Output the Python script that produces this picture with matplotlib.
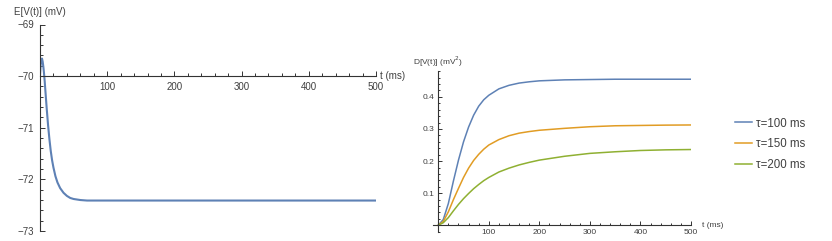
import numpy as np
import matplotlib.pyplot as plt
from matplotlib.ticker import MultipleLocator, FixedLocator

plt.rcParams['font.family'] = ['Liberation Sans', 'DejaVu Sans']

# left panel: mean membrane potential
t_mean = [0, 1, 2, 3, 4, 5, 6, 7, 8, 10, 12, 14, 16, 18, 20, 23, 26, 30,
          35, 40, 45, 50, 60, 70, 80, 100, 200, 300, 400, 500]
E_mean = [-69.98, -69.78, -69.67, -69.66, -69.72, -69.82, -69.95, -70.10,
          -70.28, -70.63, -70.95, -71.22, -71.45, -71.63, -71.77, -71.94,
          -72.06, -72.17, -72.26, -72.32, -72.36, -72.38, -72.40, -72.41,
          -72.41, -72.41, -72.41, -72.41, -72.41, -72.41]

# right panel: variance for three time constants
t_var = [0, 10, 20, 30, 40, 50, 60, 70, 80, 90, 100, 120, 140, 160, 180,
         200, 250, 300, 350, 400, 450, 500]
D_100 = [0, 0.018, 0.068, 0.138, 0.203, 0.26, 0.306, 0.343, 0.371, 0.391,
         0.405, 0.425, 0.436, 0.443, 0.447, 0.45, 0.453, 0.454, 0.455,
         0.455, 0.455, 0.455]
D_150 = [0, 0.012, 0.042, 0.08, 0.115, 0.149, 0.178, 0.202, 0.221, 0.237,
         0.25, 0.267, 0.279, 0.287, 0.292, 0.296, 0.302, 0.307, 0.31,
         0.311, 0.312, 0.3125]
D_200 = [0, 0.008, 0.024, 0.045, 0.065, 0.083, 0.099, 0.114, 0.127, 0.139,
         0.149, 0.166, 0.178, 0.188, 0.196, 0.203, 0.215, 0.224, 0.229,
         0.233, 0.235, 0.236]
labels = ['τ=100 ms', 'τ=150 ms', 'τ=200 ms']
colors = ['#5E81B5', '#E19C24', '#8FB032']

W, H = 832, 241
fig = plt.figure(figsize=(W / 100, H / 100), dpi=100)

axis_col = '#333333'
text_col = '#404040'


def style_axes(ax, xzero, yzero, fs, major_len, minor_len, pad):
    for s in ['top', 'right']:
        ax.spines[s].set_visible(False)
    ax.spines['left'].set_position(('data', xzero))
    ax.spines['bottom'].set_position(('data', yzero))
    for s in ['left', 'bottom']:
        ax.spines[s].set_linewidth(0.8)
        ax.spines[s].set_color(axis_col)
    ax.tick_params(which='both', direction='in', color=axis_col,
                   labelsize=fs, labelcolor=text_col, width=0.7, pad=pad)
    ax.tick_params(which='major', length=major_len)
    ax.tick_params(which='minor', length=minor_len)
    ax.patch.set_alpha(0)


# ---- left panel ----
ax1 = fig.add_axes([40 / W, 10 / H, 336 / W, 206.5 / H])
ax1.plot(t_mean, E_mean, color=colors[0], lw=1.5)
ax1.set_xlim(0, 500)
ax1.set_ylim(-73, -69)
style_axes(ax1, 0, -70, 7, 3.6, 2.0, 4.5)
ax1.xaxis.set_major_locator(FixedLocator([100, 200, 300, 400, 500]))
ax1.xaxis.set_minor_locator(MultipleLocator(20))
ax1.yaxis.set_minor_locator(MultipleLocator(0.2))
ax1.set_yticks([-73, -72, -71, -70, -69])
ax1.set_yticklabels(['\u221273', '\u221272', '\u221271', '\u221270', '\u221269'])
ax1.annotate('E[V(t)] (mV)', xy=(0, 1), xycoords=('data', 'axes fraction'),
             xytext=(0, 8.8), textcoords='offset points', ha='center',
             va='center', fontsize=7, color=text_col)
ax1.annotate('t (ms)', xy=(1, -70), xycoords=('axes fraction', 'data'),
             xytext=(3, 0), textcoords='offset points', ha='left',
             va='center', fontsize=7, color=text_col)

# ---- right panel ----
ax2 = fig.add_axes([433.2 / W, 9.3 / H, 257.8 / W, 160.5 / H])
for d, c, lab in zip([D_100, D_150, D_200], colors, labels):
    ax2.plot(t_var, d, color=c, lw=1.1, label=lab)
ax2.set_xlim(-10, 500)
ax2.set_ylim(-0.02, 0.48)
style_axes(ax2, 0, 0, 6, 2.6, 1.4, 2.5)
ax2.xaxis.set_major_locator(FixedLocator([100, 200, 300, 400, 500]))
ax2.xaxis.set_minor_locator(MultipleLocator(20))
ax2.yaxis.set_major_locator(FixedLocator([0.1, 0.2, 0.3, 0.4]))
ax2.yaxis.set_minor_locator(MultipleLocator(0.02))
ax2.annotate('D[V(t)] (mV$^2$)', xy=(0, 1), xycoords=('data', 'axes fraction'),
             xytext=(0, 6.8), textcoords='offset points', ha='center',
             va='center', fontsize=6, color=text_col)
ax2.annotate('t (ms)', xy=(1, 0), xycoords=('axes fraction', 'data'),
             xytext=(7.7, 0), textcoords='offset points', ha='left',
             va='center', fontsize=6, color=text_col)

fig.legend(loc='upper left', bbox_to_anchor=(735 / W, 1 - 117.5 / H),
           frameon=False, fontsize=8.3, handlelength=1.45, handletextpad=0.4,
           labelspacing=0.78, borderpad=0, borderaxespad=0,
           labelcolor=text_col)

fig.savefig('out.png', dpi=100)
